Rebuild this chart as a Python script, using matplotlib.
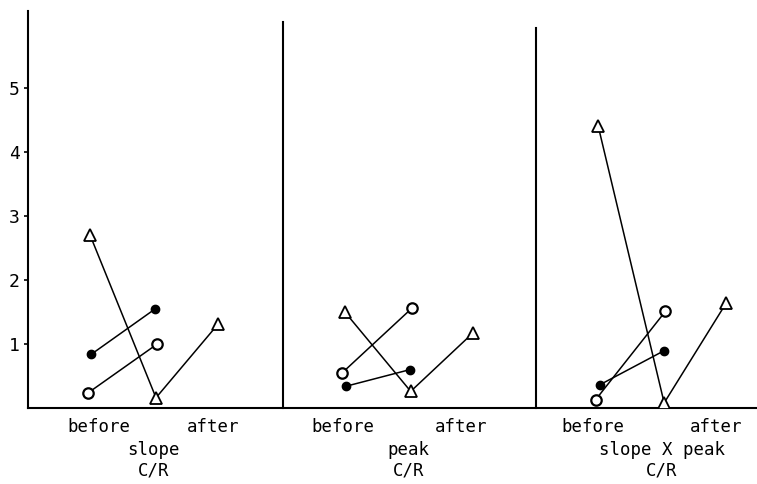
import matplotlib.pyplot as plt

plt.rcParams['font.family'] = ['DejaVu Sans Mono']

panels = ["slope", "peak", "slope X peak"]
phase_labels = ["before", "after"]
unit_label = "C/R"

# triangle series runs before -> middle -> after, the circles before -> middle
triangle = [
    [2.7, 0.16, 1.31],
    [1.50, 0.26, 1.17],
    [4.40, 0.08, 1.64],
]
open_circle = [
    [0.23, 1.00],
    [0.55, 1.56],
    [0.13, 1.51],
]
filled_circle = [
    [0.84, 1.55],
    [0.34, 0.60],
    [0.36, 0.89],
]

offsets = [0.0, 3.98, 7.94]
divider_tops = [6.03, 5.94]
# where "before" / "after" sit inside each panel
before_x = [1.1, 0.94, 0.88]
after_x = [2.89, 2.79, 2.81]

fig = plt.figure(figsize=(7.57, 4.84), dpi=100)
ax = fig.add_axes([28 / 757, 76 / 484, 729 / 757, 397 / 484])
ax.set_xlim(0, 729 / 64)
ax.set_ylim(0, 6.2)

for i, name in enumerate(panels):
    x0 = offsets[i]
    ax.plot([x0 + 0.97, x0 + 2.0, x0 + 2.97], triangle[i], color="black", lw=1.1,
            marker="^", ms=9, mfc="white", mec="black", mew=1.3, zorder=3)
    ax.plot([x0 + 0.93, x0 + 2.02], open_circle[i], color="black", lw=1.1,
            marker="o", ms=7.5, mfc="white", mec="black", mew=1.6, zorder=3)
    ax.plot([x0 + 0.99, x0 + 1.99], filled_circle[i], color="black", lw=1.1,
            marker="o", ms=6, mfc="black", mec="black", zorder=3)

    ax.text(x0 + before_x[i], -0.30, phase_labels[0], ha="center", va="center", fontsize=12.5)
    ax.text(x0 + after_x[i], -0.30, phase_labels[1], ha="center", va="center", fontsize=12.5)
    ax.text(x0 + 1.96, -0.65, name, ha="center", va="center", fontsize=12.5)
    ax.text(x0 + 1.96, -0.98, unit_label, ha="center", va="center", fontsize=12.5)

# panel dividers
for x0, top in zip(offsets[1:], divider_tops):
    ax.plot([x0, x0], [0, top], color="black", lw=1.5, clip_on=False)

for s in ["top", "right"]:
    ax.spines[s].set_visible(False)
ax.spines["left"].set_linewidth(1.5)
ax.spines["bottom"].set_linewidth(1.5)

ax.set_xticks([])
ax.set_yticks([1, 2, 3, 4, 5])
ax.tick_params(axis="y", direction="out", length=3, width=1.2, pad=3, labelsize=13)

fig.savefig("out.png", dpi=100)
